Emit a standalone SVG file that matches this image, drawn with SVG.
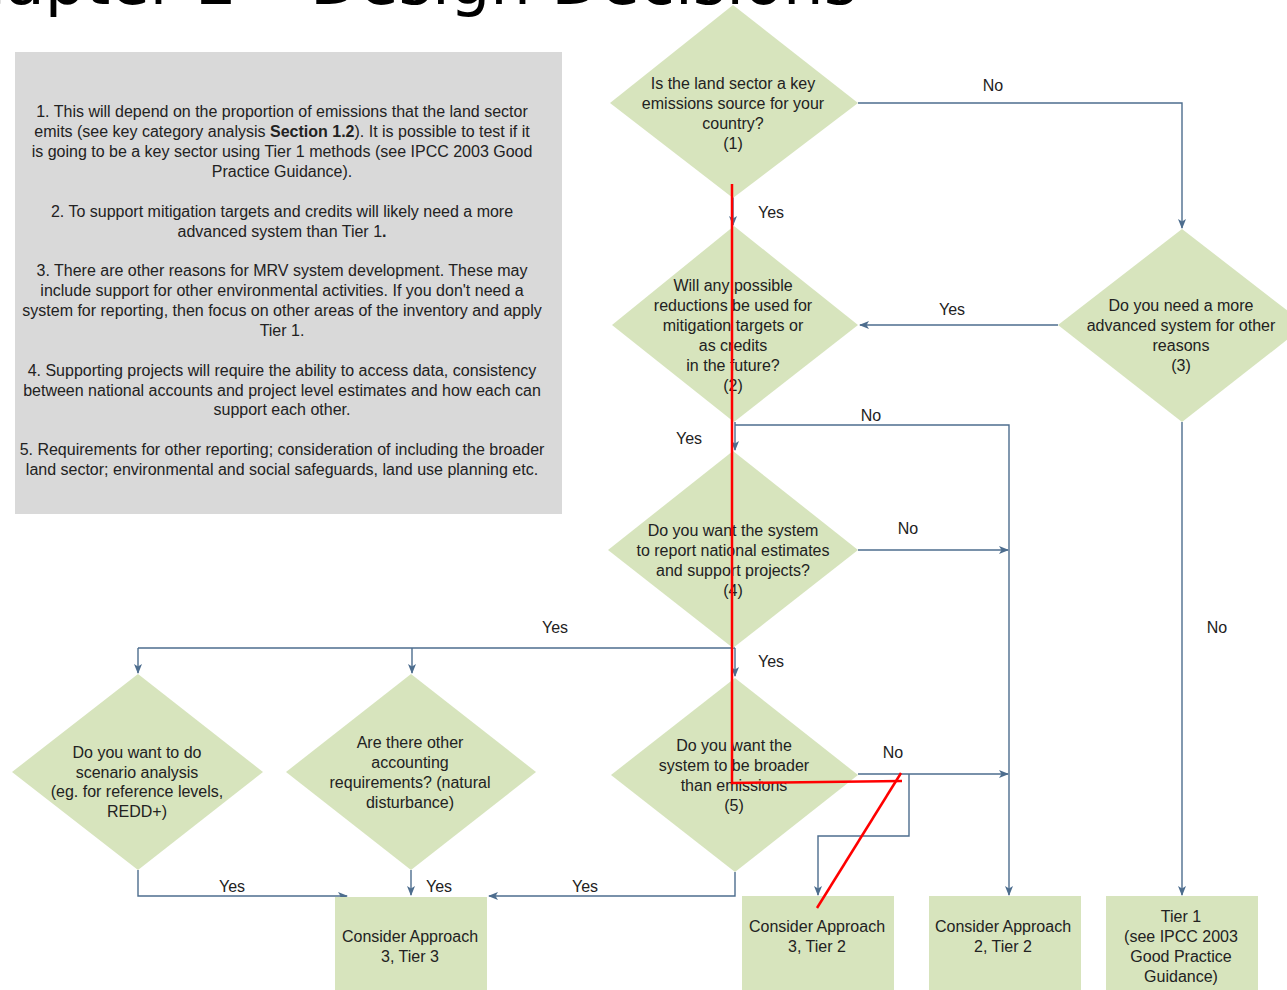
<svg xmlns="http://www.w3.org/2000/svg" width="1287" height="990" viewBox="0 0 1287 990">
<style>
text{font-family:"Liberation Sans",Arial,sans-serif;font-size:16px;fill:#222;text-anchor:middle}
.title{font-family:"DejaVu Sans",sans-serif;font-size:64px;fill:#000;text-anchor:end}
.d{fill:#d7e4bd}
.box{fill:#d7e4bd}
.c{fill:none;stroke:#4d6d8e;stroke-width:1.4}
.a{marker-end:url(#arr)}
.red{fill:none;stroke:#f00;stroke-width:2.5}
.lbl{font-size:16px}
</style>
<defs>
<marker id="arr" markerUnits="userSpaceOnUse" markerWidth="10" markerHeight="10" viewBox="0 0 10 10" refX="9" refY="5" orient="auto">
<path d="M0,1 L10,5 L0,9 L2.5,5 z" fill="#4d6d8e"/>
</marker>
</defs>
<rect width="1287" height="990" fill="#fff"/>
<text class="title" x="857" y="4">Chapter 2 – Design Decisions</text>

<g id="notes">
<rect x="15" y="52" width="547" height="462" fill="#d9d9d9"/>
<text x="282" y="117">1. This will depend on the proportion of emissions that the land sector</text>
<text x="282" y="137">emits (see key category analysis <tspan font-weight="bold">Section 1.2</tspan>). It is possible to test if it</text>
<text x="282" y="157">is going to be a key sector using Tier 1 methods (see IPCC 2003 Good</text>
<text x="282" y="177">Practice Guidance).</text>
<text x="282" y="217">2. To support mitigation targets and credits will likely need a more</text>
<text x="282" y="237">advanced system than Tier 1<tspan font-weight="bold">.</tspan></text>
<text x="282" y="276">3. There are other reasons for MRV system development. These may</text>
<text x="282" y="296">include support for other environmental activities. If you don't need a</text>
<text x="282" y="316">system for reporting, then focus on other areas of the inventory and apply</text>
<text x="282" y="336">Tier 1.</text>
<text x="282" y="376">4. Supporting projects will require the ability to access data, consistency</text>
<text x="282" y="396">between national accounts and project level estimates and how each can</text>
<text x="282" y="415">support each other.</text>
<text x="282" y="455">5. Requirements for other reporting; consideration of including the broader</text>
<text x="282" y="475">land sector; environmental and social safeguards, land use planning etc.</text>
</g>

<g id="connectors">
<path class="c a" d="M858,103 H1182 V228"/>
<path class="c a" d="M733,197 V225"/>
<path class="c a" d="M1058,325 H860"/>
<path class="c a" d="M1182,422 V895"/>
<path class="c a" d="M735,422 V450"/>
<path class="c a" d="M735,425 H1009 V895"/>
<path class="c a" d="M858,550 H1008"/>
<path class="c" d="M735,648 H138"/>
<path class="c a" d="M138,648 V673"/>
<path class="c a" d="M412,648 V673"/>
<path class="c a" d="M735,648 V676"/>
<path class="c a" d="M858,774 H1008"/>
<path class="c a" d="M909,774 V836 H818 V895"/>
<path class="c a" d="M735,872 V896 H489"/>
<path class="c a" d="M138,870 V896 H347"/>
<path class="c a" d="M411,870 V895"/>
<text class="lbl" x="993" y="91">No</text>
<text class="lbl" x="771" y="218">Yes</text>
<text class="lbl" x="952" y="315">Yes</text>
<text class="lbl" x="871" y="421">No</text>
<text class="lbl" x="689" y="444">Yes</text>
<text class="lbl" x="908" y="534">No</text>
<text class="lbl" x="555" y="633">Yes</text>
<text class="lbl" x="1217" y="633">No</text>
<text class="lbl" x="771" y="667">Yes</text>
<text class="lbl" x="893" y="758">No</text>
<text class="lbl" x="232" y="892">Yes</text>
<text class="lbl" x="439" y="892">Yes</text>
<text class="lbl" x="585" y="892">Yes</text>
</g>

<g id="q1">
<polygon class="d" points="733,5 858,103 733,198 610,103"/>
<text x="733" y="89">Is the land sector a key</text>
<text x="733" y="109">emissions source for your</text>
<text x="733" y="129">country?</text>
<text x="733" y="149">(1)</text>
</g>
<g id="q2">
<polygon class="d" points="734,226 858,325 734,422 612,325"/>
<text x="733" y="291">Will any possible</text>
<text x="733" y="311">reductions be used for</text>
<text x="733" y="331">mitigation targets or</text>
<text x="733" y="351">as credits</text>
<text x="733" y="371">in the future?</text>
<text x="733" y="391">(2)</text>
</g>
<g id="q3">
<polygon class="d" points="1182,229 1306,325 1182,422 1058,325"/>
<text x="1181" y="311">Do you need a more</text>
<text x="1181" y="331">advanced system for other</text>
<text x="1181" y="351">reasons</text>
<text x="1181" y="371">(3)</text>
</g>
<g id="q4">
<polygon class="d" points="733,451 858,550 733,648 608,550"/>
<text x="733" y="536">Do you want the system</text>
<text x="733" y="556">to report national estimates</text>
<text x="733" y="576">and support projects?</text>
<text x="733" y="596">(4)</text>
</g>
<g id="q5">
<polygon class="d" points="735,678 858,775 735,872 611,775"/>
<text x="734" y="751">Do you want the</text>
<text x="734" y="771">system to be broader</text>
<text x="734" y="791">than emissions</text>
<text x="734" y="811">(5)</text>
</g>
<g id="qA">
<polygon class="d" points="138,674 263,772 138,870 12,772"/>
<text x="137" y="758">Do you want to do</text>
<text x="137" y="778">scenario analysis</text>
<text x="137" y="797">(eg. for reference levels,</text>
<text x="137" y="817">REDD+)</text>
</g>
<g id="qB">
<polygon class="d" points="411,674 536,772 411,870 286,772"/>
<text x="410" y="748">Are there other</text>
<text x="410" y="768">accounting</text>
<text x="410" y="788">requirements? (natural</text>
<text x="410" y="808">disturbance)</text>
</g>
<g id="a3t3">
<rect class="box" x="335" y="897" width="152" height="93"/>
<text x="410" y="942">Consider Approach</text>
<text x="410" y="962">3, Tier 3</text>
</g>
<g id="a3t2">
<rect class="box" x="742" y="896" width="152" height="94"/>
<text x="817" y="932">Consider Approach</text>
<text x="817" y="952">3, Tier 2</text>
</g>
<g id="a2t2">
<rect class="box" x="929" y="896" width="152" height="94"/>
<text x="1003" y="932">Consider Approach</text>
<text x="1003" y="952">2, Tier 2</text>
</g>
<g id="tier1">
<rect class="box" x="1106" y="896" width="152" height="94"/>
<text x="1181" y="922">Tier 1</text>
<text x="1181" y="942">(see IPCC 2003</text>
<text x="1181" y="962">Good Practice</text>
<text x="1181" y="982">Guidance)</text>
</g>

<g id="annotations">
<path class="red" d="M732,184 V783 L902,781"/>
<path class="red" d="M901,773 L817,908"/>
</g>
</svg>
